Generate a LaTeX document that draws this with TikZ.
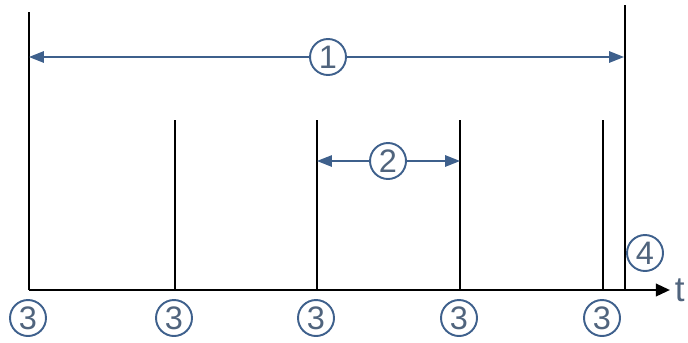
\documentclass[tikz,border=0pt]{standalone}
\usepackage{fontspec}
\setmainfont{Liberation Sans}
\usepackage{tikz}
\usetikzlibrary{arrows.meta}
\usepackage{xcolor}
\definecolor{markblue}{RGB}{62,96,140}
\definecolor{labelgrey}{RGB}{80,100,125}

\tikzset{
  numcircle/.style={circle, draw=markblue, line width=1.1pt, minimum size=0.72cm, inner sep=0pt,
    text=labelgrey, font=\fontsize{18.5}{21}\selectfont},
  tick/.style={line width=1.5pt},
  span/.style={draw=markblue, line width=0.9pt, -{Triangle[length=8.5pt,width=6.5pt]}}
}

\begin{document}
\begin{tikzpicture}[x=0.02cm, y=-0.02cm]
\useasboundingbox (0,0) rectangle (688,342);
% time axis
\coordinate (o) at (29,290);
\coordinate (tend) at (670,290);
\draw[tick, -{Triangle[length=8pt,width=7pt]}] (o) -- (tend) node[right, inner sep=2pt, text=labelgrey, font=\fontsize{20}{22}\selectfont]{t};
% long bounds
\coordinate (lt) at (29,12);
\coordinate (rt) at (625,5);
\coordinate (rb) at (625,290);
\draw[tick] (o) -- (lt);
\draw[tick] (rb) -- (rt);
% samples
\foreach \x/\n in {29/a, 175/b, 317/c, 460/d, 603/e} {
  \coordinate (top\n) at (\x,120);
  \coordinate (bot\n) at (\x,290);
  \draw[tick] (bot\n) -- (top\n);
  \node[numcircle] (s\n) at (\x-1,318) {3};
}
% whole span
\node[numcircle] (c1) at (328,57) {1};
\coordinate (l1) at (29,57);
\coordinate (r1) at (624,57);
\draw[span] (c1) -- (l1);
\draw[span] (c1) -- (r1);
% sample period
\node[numcircle] (c2) at (388,161) {2};
\coordinate (l2) at (317,161);
\coordinate (r2) at (460,161);
\draw[span] (c2) -- (l2);
\draw[span] (c2) -- (r2);
% end
\node[numcircle] (c4) at (645,253) {4};
\end{tikzpicture}
\end{document}
